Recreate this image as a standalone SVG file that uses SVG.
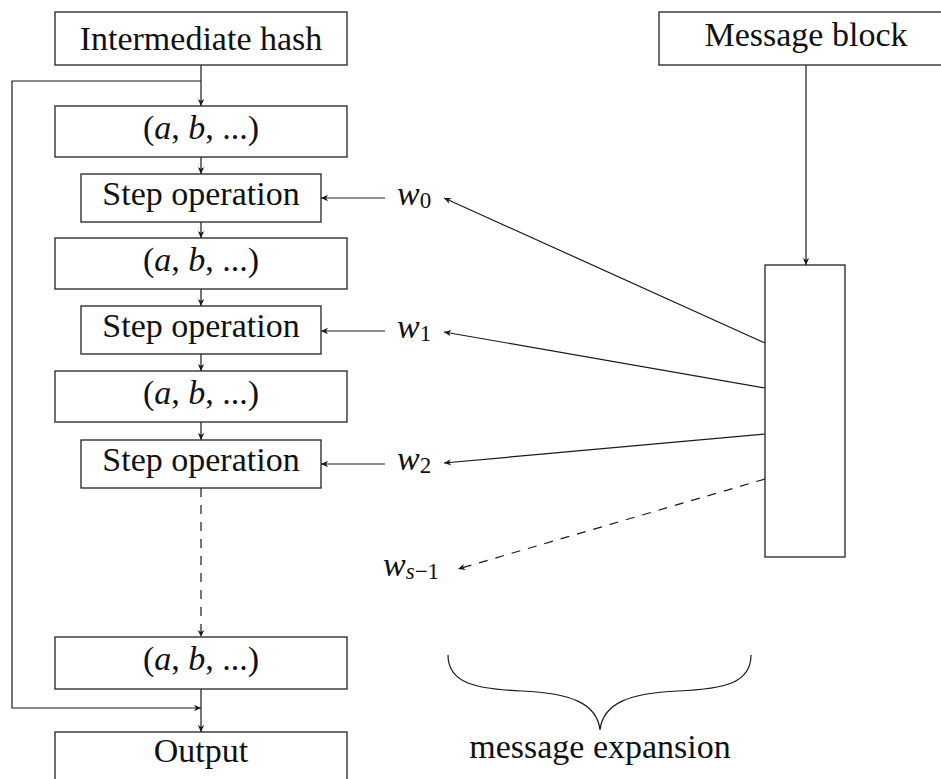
<svg xmlns="http://www.w3.org/2000/svg" width="941" height="779" viewBox="0 0 941 779">
  <style>
    .box { fill: #fff; stroke: #222; stroke-width: 1.3; }
    .lbl { font-family: "Liberation Serif", serif; font-size: 34px; fill: #111; text-anchor: middle; }
    .wl { font-family: "Liberation Serif", serif; font-size: 34px; fill: #111; text-anchor: start; font-style: italic; }
    .mi { font-style: italic; }
    .sub { font-size: 23px; font-style: normal; }
    .sub.mi { font-style: italic; }
    .edge { fill: none; stroke: #1a1a1a; stroke-width: 1.2; }
    .arr { marker-end: url(#arrow); }
    .dash { stroke-dasharray: 9 8; }
  </style>
  <defs>
    <marker id="arrow" viewBox="-8 -4 9 8" refX="0" refY="0" markerWidth="9" markerHeight="8" markerUnits="userSpaceOnUse" orient="auto">
      <path d="M0,0 L-7,-3.2 L-5,0 L-7,3.2 Z" fill="#1a1a1a"/>
    </marker>
  </defs>

  <!-- connectors -->
  <g id="connectors">
    <path class="edge arr" d="M201,65 V106"/>
    <path class="edge arr" d="M201,81 H12 V708 H201"/>
    <path class="edge arr" d="M201,157 V174"/>
    <path class="edge arr" d="M201,222 V238"/>
    <path class="edge arr" d="M201,289 V306"/>
    <path class="edge arr" d="M201,354 V371"/>
    <path class="edge arr" d="M201,422 V440"/>
    <path class="edge arr dash" d="M201,488 V637"/>
    <path class="edge arr" d="M201,689 V732"/>
    <path class="edge arr" d="M385,198 H321"/>
    <path class="edge arr" d="M385,331 H321"/>
    <path class="edge arr" d="M385,464 H321"/>
    <path class="edge arr" d="M806,65 V265"/>
    <path class="edge arr" d="M765,343 L444,198"/>
    <path class="edge arr" d="M765,388 L444,332"/>
    <path class="edge arr" d="M765,434 L444,463"/>
    <path class="edge arr dash" d="M765,479 L458,569"/>
  </g>

  <!-- compression chain -->
  <g id="hash">
    <rect class="box" x="55" y="12" width="292" height="53"/>
    <text class="lbl" x="201" y="50">Intermediate hash</text>
  </g>
  <g id="state0">
    <rect class="box" x="55" y="106" width="292" height="51"/>
    <text class="lbl" x="201" y="139">(<tspan class="mi">a</tspan>, <tspan class="mi">b</tspan>, ...)</text>
  </g>
  <g id="step0">
    <rect class="box" x="81" y="174" width="240" height="48"/>
    <text class="lbl" x="201" y="205">Step operation</text>
  </g>
  <g id="state1">
    <rect class="box" x="55" y="238" width="292" height="51"/>
    <text class="lbl" x="201" y="271">(<tspan class="mi">a</tspan>, <tspan class="mi">b</tspan>, ...)</text>
  </g>
  <g id="step1">
    <rect class="box" x="81" y="306" width="240" height="48"/>
    <text class="lbl" x="201" y="337">Step operation</text>
  </g>
  <g id="state2">
    <rect class="box" x="55" y="371" width="292" height="51"/>
    <text class="lbl" x="201" y="404">(<tspan class="mi">a</tspan>, <tspan class="mi">b</tspan>, ...)</text>
  </g>
  <g id="step2">
    <rect class="box" x="81" y="440" width="240" height="48"/>
    <text class="lbl" x="201" y="471">Step operation</text>
  </g>
  <g id="stateN">
    <rect class="box" x="55" y="637" width="292" height="52"/>
    <text class="lbl" x="201" y="670">(<tspan class="mi">a</tspan>, <tspan class="mi">b</tspan>, ...)</text>
  </g>
  <g id="output">
    <rect class="box" x="55" y="732" width="292" height="60"/>
    <text class="lbl" x="201" y="762">Output</text>
  </g>

  <!-- message side -->
  <g id="message-block">
    <rect class="box" x="659" y="12" width="294" height="53"/>
    <text class="lbl" x="806" y="46">Message block</text>
  </g>
  <g id="expander">
    <rect class="box" x="765" y="265" width="80" height="292"/>
  </g>

  <!-- expanded words -->
  <g id="w0">
    <text class="wl" x="397" y="205">w<tspan class="sub" dy="3">0</tspan></text>
  </g>
  <g id="w1">
    <text class="wl" x="397" y="338">w<tspan class="sub" dy="3">1</tspan></text>
  </g>
  <g id="w2">
    <text class="wl" x="397" y="470">w<tspan class="sub" dy="3">2</tspan></text>
  </g>
  <g id="wlast">
    <text class="wl" x="383" y="576">w<tspan class="sub mi" dy="3">s</tspan><tspan class="sub">−1</tspan></text>
  </g>

  <!-- brace under the expansion -->
  <g id="expansion">
    <path class="edge" d="M448,655 C448,683 475,689 522,691 C570,693 597,703 600,730 C603,703 630,693 678,691 C725,689 751,683 751,655"/>
    <text class="lbl" x="600" y="758">message expansion</text>
  </g>
</svg>
